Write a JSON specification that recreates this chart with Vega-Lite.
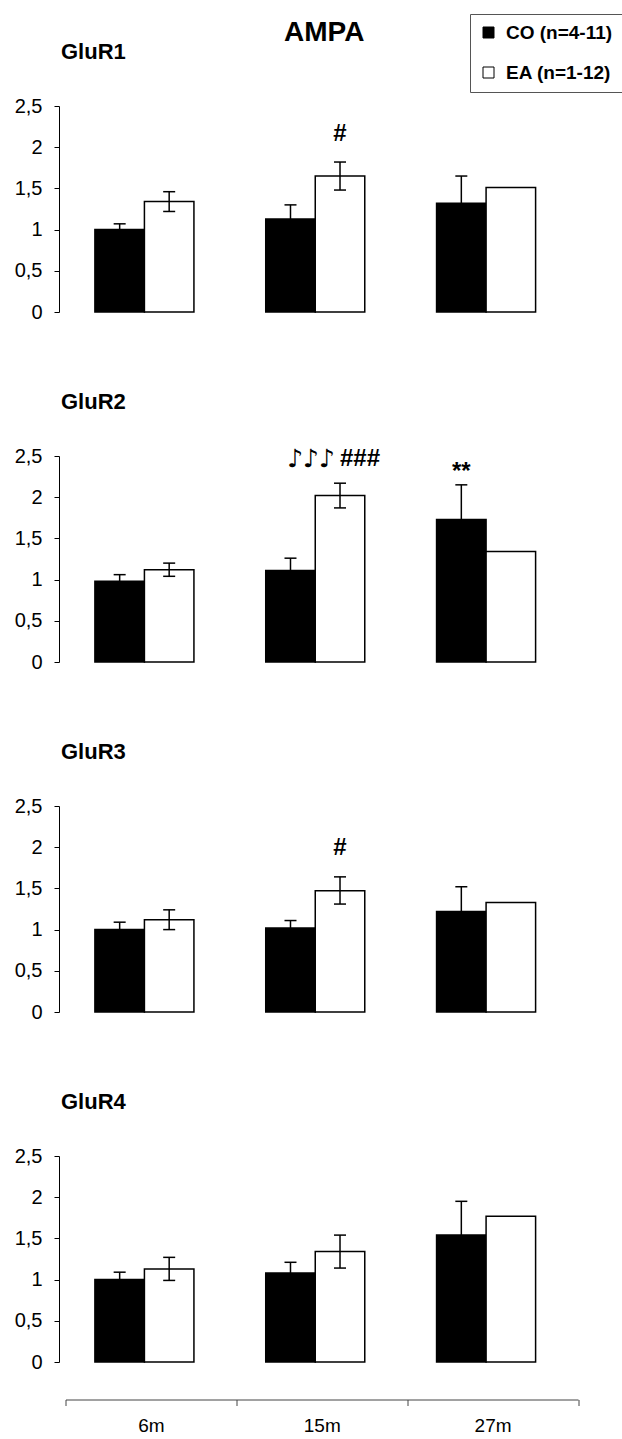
{
  "$schema": "https://vega.github.io/schema/vega-lite/v6.json",
  "padding": {"left": 14, "top": 13, "right": 0, "bottom": 8},
  "title": {"text": "AMPA", "fontSize": 28, "font": "Liberation Sans", "fontWeight": "bold", "anchor": "middle", "frame": "group", "dx": 9, "offset": -33, "color": "black"},
  "datasets": {
    "bars": [
      {"panel": "GluR1", "age": "6m", "group": "CO", "mean": 1.00, "lo": 0.93, "hi": 1.07},
      {"panel": "GluR1", "age": "6m", "group": "EA", "mean": 1.34, "lo": 1.22, "hi": 1.46},
      {"panel": "GluR1", "age": "15m", "group": "CO", "mean": 1.13, "lo": 0.96, "hi": 1.30},
      {"panel": "GluR1", "age": "15m", "group": "EA", "mean": 1.65, "lo": 1.48, "hi": 1.82},
      {"panel": "GluR1", "age": "27m", "group": "CO", "mean": 1.32, "lo": 0.99, "hi": 1.65},
      {"panel": "GluR1", "age": "27m", "group": "EA", "mean": 1.51, "lo": null, "hi": null},
      {"panel": "GluR2", "age": "6m", "group": "CO", "mean": 0.98, "lo": 0.90, "hi": 1.06},
      {"panel": "GluR2", "age": "6m", "group": "EA", "mean": 1.12, "lo": 1.04, "hi": 1.20},
      {"panel": "GluR2", "age": "15m", "group": "CO", "mean": 1.11, "lo": 0.96, "hi": 1.26},
      {"panel": "GluR2", "age": "15m", "group": "EA", "mean": 2.02, "lo": 1.87, "hi": 2.17},
      {"panel": "GluR2", "age": "27m", "group": "CO", "mean": 1.73, "lo": 1.31, "hi": 2.15},
      {"panel": "GluR2", "age": "27m", "group": "EA", "mean": 1.34, "lo": null, "hi": null},
      {"panel": "GluR3", "age": "6m", "group": "CO", "mean": 1.00, "lo": 0.91, "hi": 1.09},
      {"panel": "GluR3", "age": "6m", "group": "EA", "mean": 1.12, "lo": 1.00, "hi": 1.24},
      {"panel": "GluR3", "age": "15m", "group": "CO", "mean": 1.02, "lo": 0.93, "hi": 1.11},
      {"panel": "GluR3", "age": "15m", "group": "EA", "mean": 1.47, "lo": 1.31, "hi": 1.64},
      {"panel": "GluR3", "age": "27m", "group": "CO", "mean": 1.22, "lo": 0.91, "hi": 1.52},
      {"panel": "GluR3", "age": "27m", "group": "EA", "mean": 1.33, "lo": null, "hi": null},
      {"panel": "GluR4", "age": "6m", "group": "CO", "mean": 1.00, "lo": 0.91, "hi": 1.09},
      {"panel": "GluR4", "age": "6m", "group": "EA", "mean": 1.13, "lo": 0.99, "hi": 1.27},
      {"panel": "GluR4", "age": "15m", "group": "CO", "mean": 1.08, "lo": 0.95, "hi": 1.21},
      {"panel": "GluR4", "age": "15m", "group": "EA", "mean": 1.34, "lo": 1.14, "hi": 1.54},
      {"panel": "GluR4", "age": "27m", "group": "CO", "mean": 1.54, "lo": 1.13, "hi": 1.95},
      {"panel": "GluR4", "age": "27m", "group": "EA", "mean": 1.77, "lo": null, "hi": null}
    ],
    "notes": [
      {"panel": "GluR1", "age": "15m", "group": "EA", "kind": "c", "label": "#", "y": 2.16},
      {"panel": "GluR2", "age": "15m", "group": "EA", "kind": "r", "label": "♪♪♪", "y": 2.46},
      {"panel": "GluR2", "age": "15m", "group": "EA", "kind": "l", "label": "###", "y": 2.46},
      {"panel": "GluR2", "age": "27m", "group": "CO", "kind": "c", "label": "**", "y": 2.31},
      {"panel": "GluR3", "age": "15m", "group": "EA", "kind": "c", "label": "#", "y": 1.99}
    ]
  },
  "spacing": 144,
  "bounds": "flush",
  "vconcat": [
    {
      "title": {"text": "GluR1"},
      "width": 512.5, "height": 206,
      "layer": [
        {"data": {"name": "bars"}, "transform": [{"filter": "datum.panel == 'GluR1'"}],
         "mark": {"type": "bar", "stroke": "black", "strokeWidth": 1.5},
         "encoding": {
           "x": {"field": "age", "type": "nominal", "scale": {"domain": ["6m", "15m", "27m"], "paddingInner": 0, "paddingOuter": 0}, "axis": null},
           "xOffset": {"field": "group", "type": "nominal", "scale": {"domain": ["CO", "EA"], "paddingInner": 0, "paddingOuter": 0.725}},
           "y": {"field": "mean", "type": "quantitative", "scale": {"domain": [0, 2.5], "nice": false}, "title": null, "axis": {"values": [0, 0.5, 1, 1.5, 2, 2.5], "format": "~g", "labelExpr": "replace(datum.label, '.', ',')"}},
           "fill": {"field": "group", "type": "nominal", "scale": {"domain": ["CO", "EA"], "range": ["black", "white"]},
             "legend": {"orient": "none", "legendX": 411, "legendY": -92, "title": null, "labelExpr": "datum.label == 'CO' ? 'CO (n=4-11)' : 'EA (n=1-12)'"}}
         }},
        {"data": {"name": "bars"}, "transform": [{"filter": "datum.panel == 'GluR1' && datum.hi != null"}],
         "mark": {"type": "rule", "color": "black", "strokeWidth": 1.5},
         "encoding": {
           "x": {"field": "age", "type": "nominal", "scale": {"domain": ["6m", "15m", "27m"], "paddingInner": 0, "paddingOuter": 0}, "axis": null},
           "xOffset": {"field": "group", "type": "nominal", "scale": {"domain": ["CO", "EA"], "paddingInner": 0, "paddingOuter": 0.725}},
           "y": {"field": "lo", "type": "quantitative"}, "y2": {"field": "hi"}
         }},
        {"data": {"name": "bars"}, "transform": [{"filter": "datum.panel == 'GluR1' && datum.hi != null"}],
         "mark": {"type": "tick", "color": "black", "size": 12, "thickness": 1.5, "opacity": 1},
         "encoding": {
           "x": {"field": "age", "type": "nominal", "scale": {"domain": ["6m", "15m", "27m"], "paddingInner": 0, "paddingOuter": 0}, "axis": null},
           "xOffset": {"field": "group", "type": "nominal", "scale": {"domain": ["CO", "EA"], "paddingInner": 0, "paddingOuter": 0.725}},
           "y": {"field": "hi", "type": "quantitative"}
         }},
        {"data": {"name": "bars"}, "transform": [{"filter": "datum.panel == 'GluR1' && datum.hi != null"}],
         "mark": {"type": "tick", "color": "black", "size": 12, "thickness": 1.5, "opacity": 1},
         "encoding": {
           "x": {"field": "age", "type": "nominal", "scale": {"domain": ["6m", "15m", "27m"], "paddingInner": 0, "paddingOuter": 0}, "axis": null},
           "xOffset": {"field": "group", "type": "nominal", "scale": {"domain": ["CO", "EA"], "paddingInner": 0, "paddingOuter": 0.725}},
           "y": {"field": "lo", "type": "quantitative"}
         }},
        {"data": {"name": "notes"}, "transform": [{"filter": "datum.panel == 'GluR1' && datum.kind == 'c'"}],
         "mark": {"type": "text", "font": "Liberation Sans", "fontWeight": "bold", "fontSize": 24, "baseline": "middle", "align": "center", "color": "black"},
         "encoding": {
           "x": {"field": "age", "type": "nominal", "scale": {"domain": ["6m", "15m", "27m"], "paddingInner": 0, "paddingOuter": 0}, "axis": null},
           "xOffset": {"field": "group", "type": "nominal", "scale": {"domain": ["CO", "EA"], "paddingInner": 0, "paddingOuter": 0.725}},
           "y": {"field": "y", "type": "quantitative"},
           "text": {"field": "label"}
         }}
      ]
    },
    {
      "title": {"text": "GluR2"},
      "width": 512.5, "height": 206,
      "layer": [
        {"data": {"name": "bars"}, "transform": [{"filter": "datum.panel == 'GluR2'"}],
         "mark": {"type": "bar", "stroke": "black", "strokeWidth": 1.5},
         "encoding": {
           "x": {"field": "age", "type": "nominal", "scale": {"domain": ["6m", "15m", "27m"], "paddingInner": 0, "paddingOuter": 0}, "axis": null},
           "xOffset": {"field": "group", "type": "nominal", "scale": {"domain": ["CO", "EA"], "paddingInner": 0, "paddingOuter": 0.725}},
           "y": {"field": "mean", "type": "quantitative", "scale": {"domain": [0, 2.5], "nice": false}, "title": null, "axis": {"values": [0, 0.5, 1, 1.5, 2, 2.5], "format": "~g", "labelExpr": "replace(datum.label, '.', ',')"}},
           "fill": {"field": "group", "type": "nominal", "scale": {"domain": ["CO", "EA"], "range": ["black", "white"]}}
         }},
        {"data": {"name": "bars"}, "transform": [{"filter": "datum.panel == 'GluR2' && datum.hi != null"}],
         "mark": {"type": "rule", "color": "black", "strokeWidth": 1.5},
         "encoding": {
           "x": {"field": "age", "type": "nominal", "scale": {"domain": ["6m", "15m", "27m"], "paddingInner": 0, "paddingOuter": 0}, "axis": null},
           "xOffset": {"field": "group", "type": "nominal", "scale": {"domain": ["CO", "EA"], "paddingInner": 0, "paddingOuter": 0.725}},
           "y": {"field": "lo", "type": "quantitative"}, "y2": {"field": "hi"}
         }},
        {"data": {"name": "bars"}, "transform": [{"filter": "datum.panel == 'GluR2' && datum.hi != null"}],
         "mark": {"type": "tick", "color": "black", "size": 12, "thickness": 1.5, "opacity": 1},
         "encoding": {
           "x": {"field": "age", "type": "nominal", "scale": {"domain": ["6m", "15m", "27m"], "paddingInner": 0, "paddingOuter": 0}, "axis": null},
           "xOffset": {"field": "group", "type": "nominal", "scale": {"domain": ["CO", "EA"], "paddingInner": 0, "paddingOuter": 0.725}},
           "y": {"field": "hi", "type": "quantitative"}
         }},
        {"data": {"name": "bars"}, "transform": [{"filter": "datum.panel == 'GluR2' && datum.hi != null"}],
         "mark": {"type": "tick", "color": "black", "size": 12, "thickness": 1.5, "opacity": 1},
         "encoding": {
           "x": {"field": "age", "type": "nominal", "scale": {"domain": ["6m", "15m", "27m"], "paddingInner": 0, "paddingOuter": 0}, "axis": null},
           "xOffset": {"field": "group", "type": "nominal", "scale": {"domain": ["CO", "EA"], "paddingInner": 0, "paddingOuter": 0.725}},
           "y": {"field": "lo", "type": "quantitative"}
         }},
        {"data": {"name": "notes"}, "transform": [{"filter": "datum.panel == 'GluR2' && datum.kind == 'c'"}],
         "mark": {"type": "text", "font": "Liberation Sans", "fontWeight": "bold", "fontSize": 24, "baseline": "middle", "align": "center", "color": "black"},
         "encoding": {
           "x": {"field": "age", "type": "nominal", "scale": {"domain": ["6m", "15m", "27m"], "paddingInner": 0, "paddingOuter": 0}, "axis": null},
           "xOffset": {"field": "group", "type": "nominal", "scale": {"domain": ["CO", "EA"], "paddingInner": 0, "paddingOuter": 0.725}},
           "y": {"field": "y", "type": "quantitative"},
           "text": {"field": "label"}
         }},
        {"data": {"name": "notes"}, "transform": [{"filter": "datum.panel == 'GluR2' && datum.kind == 'l'"}],
         "mark": {"type": "text", "font": "Liberation Sans", "fontWeight": "bold", "fontSize": 24, "baseline": "middle", "align": "left", "dx": 0, "color": "black"},
         "encoding": {
           "x": {"field": "age", "type": "nominal", "scale": {"domain": ["6m", "15m", "27m"], "paddingInner": 0, "paddingOuter": 0}, "axis": null},
           "xOffset": {"field": "group", "type": "nominal", "scale": {"domain": ["CO", "EA"], "paddingInner": 0, "paddingOuter": 0.725}},
           "y": {"field": "y", "type": "quantitative"},
           "text": {"field": "label"}
         }},
        {"data": {"name": "notes"}, "transform": [{"filter": "datum.panel == 'GluR2' && datum.kind == 'r'"}],
         "mark": {"type": "text", "font": "DejaVu Sans", "fontWeight": "normal", "fontSize": 25, "baseline": "middle", "align": "right", "dx": -5, "color": "black"},
         "encoding": {
           "x": {"field": "age", "type": "nominal", "scale": {"domain": ["6m", "15m", "27m"], "paddingInner": 0, "paddingOuter": 0}, "axis": null},
           "xOffset": {"field": "group", "type": "nominal", "scale": {"domain": ["CO", "EA"], "paddingInner": 0, "paddingOuter": 0.725}},
           "y": {"field": "y", "type": "quantitative"},
           "text": {"field": "label"}
         }}
      ]
    },
    {
      "title": {"text": "GluR3"},
      "width": 512.5, "height": 206,
      "layer": [
        {"data": {"name": "bars"}, "transform": [{"filter": "datum.panel == 'GluR3'"}],
         "mark": {"type": "bar", "stroke": "black", "strokeWidth": 1.5},
         "encoding": {
           "x": {"field": "age", "type": "nominal", "scale": {"domain": ["6m", "15m", "27m"], "paddingInner": 0, "paddingOuter": 0}, "axis": null},
           "xOffset": {"field": "group", "type": "nominal", "scale": {"domain": ["CO", "EA"], "paddingInner": 0, "paddingOuter": 0.725}},
           "y": {"field": "mean", "type": "quantitative", "scale": {"domain": [0, 2.5], "nice": false}, "title": null, "axis": {"values": [0, 0.5, 1, 1.5, 2, 2.5], "format": "~g", "labelExpr": "replace(datum.label, '.', ',')"}},
           "fill": {"field": "group", "type": "nominal", "scale": {"domain": ["CO", "EA"], "range": ["black", "white"]}}
         }},
        {"data": {"name": "bars"}, "transform": [{"filter": "datum.panel == 'GluR3' && datum.hi != null"}],
         "mark": {"type": "rule", "color": "black", "strokeWidth": 1.5},
         "encoding": {
           "x": {"field": "age", "type": "nominal", "scale": {"domain": ["6m", "15m", "27m"], "paddingInner": 0, "paddingOuter": 0}, "axis": null},
           "xOffset": {"field": "group", "type": "nominal", "scale": {"domain": ["CO", "EA"], "paddingInner": 0, "paddingOuter": 0.725}},
           "y": {"field": "lo", "type": "quantitative"}, "y2": {"field": "hi"}
         }},
        {"data": {"name": "bars"}, "transform": [{"filter": "datum.panel == 'GluR3' && datum.hi != null"}],
         "mark": {"type": "tick", "color": "black", "size": 12, "thickness": 1.5, "opacity": 1},
         "encoding": {
           "x": {"field": "age", "type": "nominal", "scale": {"domain": ["6m", "15m", "27m"], "paddingInner": 0, "paddingOuter": 0}, "axis": null},
           "xOffset": {"field": "group", "type": "nominal", "scale": {"domain": ["CO", "EA"], "paddingInner": 0, "paddingOuter": 0.725}},
           "y": {"field": "hi", "type": "quantitative"}
         }},
        {"data": {"name": "bars"}, "transform": [{"filter": "datum.panel == 'GluR3' && datum.hi != null"}],
         "mark": {"type": "tick", "color": "black", "size": 12, "thickness": 1.5, "opacity": 1},
         "encoding": {
           "x": {"field": "age", "type": "nominal", "scale": {"domain": ["6m", "15m", "27m"], "paddingInner": 0, "paddingOuter": 0}, "axis": null},
           "xOffset": {"field": "group", "type": "nominal", "scale": {"domain": ["CO", "EA"], "paddingInner": 0, "paddingOuter": 0.725}},
           "y": {"field": "lo", "type": "quantitative"}
         }},
        {"data": {"name": "notes"}, "transform": [{"filter": "datum.panel == 'GluR3' && datum.kind == 'c'"}],
         "mark": {"type": "text", "font": "Liberation Sans", "fontWeight": "bold", "fontSize": 24, "baseline": "middle", "align": "center", "color": "black"},
         "encoding": {
           "x": {"field": "age", "type": "nominal", "scale": {"domain": ["6m", "15m", "27m"], "paddingInner": 0, "paddingOuter": 0}, "axis": null},
           "xOffset": {"field": "group", "type": "nominal", "scale": {"domain": ["CO", "EA"], "paddingInner": 0, "paddingOuter": 0.725}},
           "y": {"field": "y", "type": "quantitative"},
           "text": {"field": "label"}
         }}
      ]
    },
    {
      "title": {"text": "GluR4"},
      "width": 512.5, "height": 206,
      "layer": [
        {"data": {"name": "bars"}, "transform": [{"filter": "datum.panel == 'GluR4'"}],
         "mark": {"type": "bar", "stroke": "black", "strokeWidth": 1.5},
         "encoding": {
           "x": {"field": "age", "type": "nominal", "scale": {"domain": ["6m", "15m", "27m"], "paddingInner": 0, "paddingOuter": 0}, "title": null,
             "axis": {"offset": 31, "translate": 7, "labelAngle": 0, "labelFontSize": 19, "labelPadding": 11, "tickSize": 6, "domainColor": "#444", "tickColor": "#444", "tickBand": "extent"}},
           "xOffset": {"field": "group", "type": "nominal", "scale": {"domain": ["CO", "EA"], "paddingInner": 0, "paddingOuter": 0.725}},
           "y": {"field": "mean", "type": "quantitative", "scale": {"domain": [0, 2.5], "nice": false}, "title": null, "axis": {"values": [0, 0.5, 1, 1.5, 2, 2.5], "format": "~g", "labelExpr": "replace(datum.label, '.', ',')"}},
           "fill": {"field": "group", "type": "nominal", "scale": {"domain": ["CO", "EA"], "range": ["black", "white"]}}
         }},
        {"data": {"name": "bars"}, "transform": [{"filter": "datum.panel == 'GluR4' && datum.hi != null"}],
         "mark": {"type": "rule", "color": "black", "strokeWidth": 1.5},
         "encoding": {
           "x": {"field": "age", "type": "nominal", "scale": {"domain": ["6m", "15m", "27m"], "paddingInner": 0, "paddingOuter": 0}},
           "xOffset": {"field": "group", "type": "nominal", "scale": {"domain": ["CO", "EA"], "paddingInner": 0, "paddingOuter": 0.725}},
           "y": {"field": "lo", "type": "quantitative"}, "y2": {"field": "hi"}
         }},
        {"data": {"name": "bars"}, "transform": [{"filter": "datum.panel == 'GluR4' && datum.hi != null"}],
         "mark": {"type": "tick", "color": "black", "size": 12, "thickness": 1.5, "opacity": 1},
         "encoding": {
           "x": {"field": "age", "type": "nominal", "scale": {"domain": ["6m", "15m", "27m"], "paddingInner": 0, "paddingOuter": 0}},
           "xOffset": {"field": "group", "type": "nominal", "scale": {"domain": ["CO", "EA"], "paddingInner": 0, "paddingOuter": 0.725}},
           "y": {"field": "hi", "type": "quantitative"}
         }},
        {"data": {"name": "bars"}, "transform": [{"filter": "datum.panel == 'GluR4' && datum.hi != null"}],
         "mark": {"type": "tick", "color": "black", "size": 12, "thickness": 1.5, "opacity": 1},
         "encoding": {
           "x": {"field": "age", "type": "nominal", "scale": {"domain": ["6m", "15m", "27m"], "paddingInner": 0, "paddingOuter": 0}},
           "xOffset": {"field": "group", "type": "nominal", "scale": {"domain": ["CO", "EA"], "paddingInner": 0, "paddingOuter": 0.725}},
           "y": {"field": "lo", "type": "quantitative"}
         }}
      ]
    }
  ],
  "config": {
    "view": {"stroke": null},
    "font": "Liberation Sans",
    "axis": {"grid": false, "domainColor": "black", "tickColor": "black", "labelColor": "black", "labelFont": "Liberation Sans", "tickSize": 5},
    "axisY": {"labelFontSize": 20, "labelPadding": 12},
    "title": {"font": "Liberation Sans", "fontWeight": "bold", "color": "black", "anchor": "start", "frame": "group", "fontSize": 22, "offset": 32, "dx": 2},
    "legend": {"symbolType": "square", "symbolSize": 121, "symbolStrokeColor": "black", "symbolStrokeWidth": 1, "labelFontSize": 19, "labelFontWeight": "bold", "labelFont": "Liberation Sans", "labelColor": "black", "strokeColor": "#555", "padding": 9, "rowPadding": 20, "labelOffset": 8, "fillColor": "white"}
  }
}
